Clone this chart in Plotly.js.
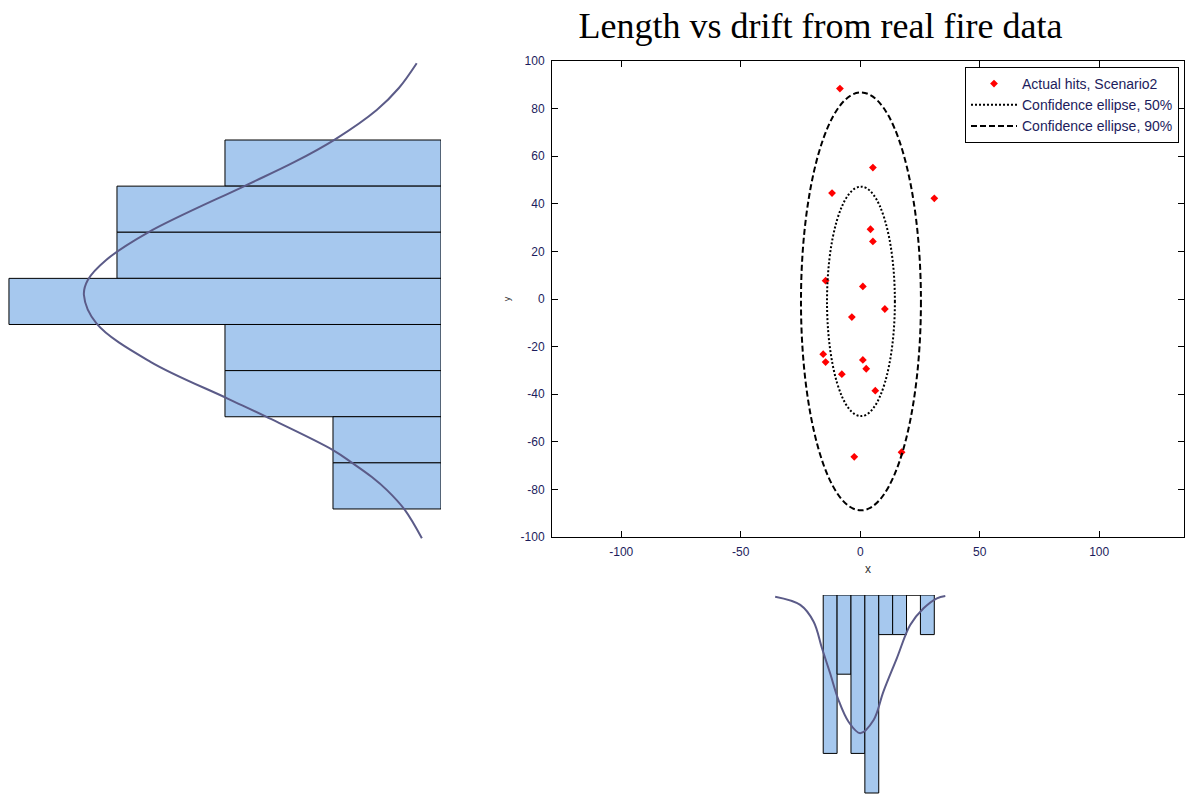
<!DOCTYPE html>
<html>
<head>
<meta charset="utf-8">
<script src="https://cdn.plot.ly/plotly-3.0.1.min.js"></script>
<style>html,body{margin:0;padding:0;background:#fff;}#chart{width:1186px;height:794px;}</style>
</head>
<body>
<div id="chart"></div>
<script>
// ---- Data ----
const hitsX = [-8.5, 5.3, -11.8, 31.0, 4.3, 5.3, -14.5, 1.1, 10.3, -3.5, -15.5, -14.5, 1.1, 2.5, -7.7, 6.3, -2.5, 17.3];
const hitsY = [88.4, 55.2, 44.5, 42.3, 29.3, 24.2, 7.7, 5.3, -4.2, -7.6, -23.2, -26.5, -25.6, -29.3, -31.6, -38.5, -66.3, -64.4];

// confidence ellipses: center and semi-axes (x, y)
const ellipseCenter = [0.3, -1.0];
const ellipse50Axes = [14.2, 48.2];
const ellipse90Axes = [25.1, 87.8];

// histogram of y (drawn on the left, low values on top)
const leftBinCenters = [-56.63, -37.29, -17.96, 1.38, 20.72, 40.06, 59.39, 78.73];
const leftCounts = [2, 3, 3, 4, 2, 2, 1, 1];
const leftBinWidth = 19.34;
// normal fit curve on the left histogram (count, y value)
const leftCurveCount = [0.225, 0.39, 0.595, 0.98, 1.36, 1.82, 2.71, 3.10, 3.27, 3.306, 3.19, 2.69, 1.98, 1.62, 1.0, 0.815, 0.64, 0.50, 0.335, 0.177];
const leftCurveY = [-98.5, -88.1, -78.9, -66.6, -57.0, -47.0, -27.6, -16.0, -7.6, -1.3, 10.6, 26.7, 42.0, 49.7, 63.7, 69.3, 75.0, 80.5, 88.8, 100.7];

// histogram of x (drawn below, hanging down)
const bottomBinCenters = [-12.59, -6.78, -0.97, 4.84, 10.66, 16.47, 22.28, 28.09];
const bottomCounts = [4, 2, 4, 5, 1, 1, 0, 1];
const bottomBinWidth = 5.81;
// normal fit curve on the bottom histogram (x value, count)
const bottomCurveX = [-35.6, -25.1, -19.5, -16.0, -12.6, -9.1, -4.9, 0.0, 5.6, 9.7, 15.3, 20.9, 26.5, 32.1, 35.6];
const bottomCurveCount = [0.043, 0.25, 0.674, 1.346, 1.977, 2.652, 3.2, 3.49, 3.157, 2.44, 1.6, 0.758, 0.336, 0.083, 0.025];

const xTicks = [-100, -50, 0, 50, 100];
const xTickLabels = ['-100', '-50', '0', '50', '100'];
const yTicks = [-100, -80, -60, -40, -20, 0, 20, 40, 60, 80, 100];
const yTickLabels = ['-100', '-80', '-60', '-40', '-20', '0', '20', '40', '60', '80', '100'];

const legendNames = ['Actual hits, Scenario2', 'Confidence ellipse, 50%', 'Confidence ellipse, 90%'];

// ---- Styles ----
const W = 1186, H = 794;
const px = v => v / W;
const py = v => 1 - v / H;
const barFill = '#a6c8ee';
const curveColor = '#5b5b88';
const tickColor = '#1c1c5c';
const dotDash = '2px,2px';
const longDash = '6px,3px';

const traces = [
  {
    type: 'scatter', mode: 'markers', x: hitsX, y: hitsY, name: legendNames[0],
    marker: {symbol: 'diamond', size: 6, color: '#ff0000'},
    xaxis: 'x', yaxis: 'y', hoverinfo: 'x+y'
  },
  {
    type: 'scatter', mode: 'lines', x: [null], y: [null], name: legendNames[1],
    line: {color: '#000', width: 2, dash: dotDash}, xaxis: 'x', yaxis: 'y'
  },
  {
    type: 'scatter', mode: 'lines', x: [null], y: [null], name: legendNames[2],
    line: {color: '#000', width: 2, dash: longDash}, xaxis: 'x', yaxis: 'y'
  },
  {
    type: 'bar', orientation: 'h', x: leftCounts, y: leftBinCenters, width: leftBinWidth,
    marker: {color: barFill, line: {color: '#000', width: 1}},
    xaxis: 'x2', yaxis: 'y2', showlegend: false
  },
  {
    type: 'scatter', mode: 'lines', x: leftCurveCount, y: leftCurveY,
    line: {color: curveColor, width: 2, shape: 'spline', smoothing: 1.0},
    xaxis: 'x2', yaxis: 'y2', showlegend: false
  },
  {
    type: 'bar', x: bottomBinCenters, y: bottomCounts, width: bottomBinWidth,
    marker: {color: barFill, line: {color: '#000', width: 1}},
    xaxis: 'x3', yaxis: 'y3', showlegend: false
  },
  {
    type: 'scatter', mode: 'lines', x: bottomCurveX, y: bottomCurveCount,
    line: {color: curveColor, width: 2, shape: 'spline', smoothing: 1.0},
    xaxis: 'x3', yaxis: 'y3', showlegend: false
  }
];

const mainXRange = [-129, 135.5];
const mainXDomain = [px(552), px(1184)];

const layout = {
  width: W, height: H,
  margin: {l: 0, r: 0, t: 0, b: 0},
  paper_bgcolor: '#fff', plot_bgcolor: 'rgba(0,0,0,0)',
  font: {family: 'Liberation Sans, Arial, sans-serif', size: 12, color: tickColor},
  title: {
    text: 'Length vs drift from real fire data',
    font: {family: 'Liberation Serif, Times New Roman, serif', size: 36, color: '#000'},
    x: px(820.5), xanchor: 'center', xref: 'paper',
    y: py(25), yanchor: 'middle', yref: 'paper'
  },
  showlegend: true,
  legend: {
    x: px(1179), xanchor: 'right', y: py(67), yanchor: 'top',
    bgcolor: '#fff', bordercolor: '#000', borderwidth: 1,
    font: {family: 'Liberation Sans, Arial, sans-serif', size: 14, color: tickColor},
    itemwidth: 46, tracegroupgap: 0
  },
  xaxis: {
    domain: mainXDomain, range: mainXRange, tickvals: xTicks, ticktext: xTickLabels,
    ticks: 'inside', ticklen: 6, tickcolor: '#000', showline: true, linecolor: '#000', linewidth: 1,
    mirror: 'ticks', showgrid: false, zeroline: false,
    tickfont: {size: 12, color: tickColor}, ticklabelstandoff: 4,
    title: {text: 'x', font: {size: 12, color: '#333'}, standoff: 6},
    anchor: 'y'
  },
  yaxis: {
    domain: [py(537), py(61)], range: [-100, 100], tickvals: yTicks, ticktext: yTickLabels,
    ticks: 'inside', ticklen: 6, tickcolor: '#000', showline: true, linecolor: '#000', linewidth: 1,
    mirror: 'ticks', showgrid: false, zeroline: false,
    tickfont: {size: 12, color: tickColor}, ticklabelstandoff: 4,
    title: {text: 'y', font: {size: 9, color: '#333'}, standoff: 8},
    anchor: 'x'
  },
  xaxis2: {domain: [0, px(441)], range: [4.083, 0], visible: false, anchor: 'y2', fixedrange: true},
  yaxis2: {domain: [0, 1], range: [207.9, -125.0], visible: false, anchor: 'x2', fixedrange: true},
  xaxis3: {domain: mainXDomain, range: mainXRange, visible: false, anchor: 'y3', fixedrange: true},
  yaxis3: {domain: [0, py(595)], range: [5.025, 0], visible: false, anchor: 'x3', fixedrange: true},
  bargap: 0,
  shapes: [
    {
      type: 'circle', xref: 'x', yref: 'y', layer: 'above',
      x0: ellipseCenter[0] - ellipse50Axes[0], x1: ellipseCenter[0] + ellipse50Axes[0],
      y0: ellipseCenter[1] - ellipse50Axes[1], y1: ellipseCenter[1] + ellipse50Axes[1],
      line: {color: '#000', width: 2, dash: dotDash}
    },
    {
      type: 'circle', xref: 'x', yref: 'y', layer: 'above',
      x0: ellipseCenter[0] - ellipse90Axes[0], x1: ellipseCenter[0] + ellipse90Axes[0],
      y0: ellipseCenter[1] - ellipse90Axes[1], y1: ellipseCenter[1] + ellipse90Axes[1],
      line: {color: '#000', width: 2, dash: longDash}
    }
  ]
};

Plotly.newPlot('chart', traces, layout, {displayModeBar: false, staticPlot: true});
</script>
</body>
</html>
